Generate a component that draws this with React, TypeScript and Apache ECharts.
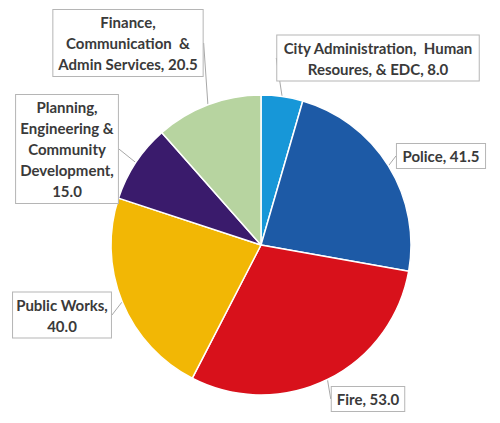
import React, { useEffect, useRef } from "react";
import * as echarts from "echarts";

// Data
const categories = [
  "City Administration,  Human\nResoures, & EDC",
  "Police",
  "Fire",
  "Public Works",
  "Planning,\nEngineering &\nCommunity\nDevelopment",
  "Finance,\nCommunication  &\nAdmin Services",
];
const values = [8.0, 41.5, 53.0, 40.0, 15.0, 20.5];
const valueSeparators = [", ", ", ", ", ", ",\n", ",\n", ", "];

// Layout (label box centres, in px)
const labelCentres: [number, number][] = [
  [378, 58],
  [441, 156],
  [368, 399],
  [62, 315],
  [67, 149],
  [128, 43],
];

const colors = ["#1797d8", "#1d5aa6", "#d8111b", "#f2b705", "#3a1b6c", "#b7d4a0"];

export default function App() {
  const ref = useRef<HTMLDivElement>(null);
  useEffect(() => {
    if (!ref.current) return;
    const chart = echarts.init(ref.current, undefined, { renderer: "svg" });
    chart.setOption({
      animation: false,
      series: [
        {
          type: "pie",
          center: [261, 245],
          radius: [0, 150],
          startAngle: 90,
          clockwise: true,
          data: categories.map((name, i) => ({
            name,
            value: values[i],
            itemStyle: { color: colors[i] },
          })),
          itemStyle: { borderColor: "#ffffff", borderWidth: 1.5 },
          label: {
            show: true,
            position: "outside",
            overflow: "none",
            edgeDistance: 0,
            formatter: (p: any) =>
              p.name + valueSeparators[p.dataIndex] + Number(p.value).toFixed(1),
            fontFamily: "Lato",
            fontWeight: "bold",
            fontSize: 15,
            lineHeight: 21,
            color: "#3a3a3a",
            backgroundColor: "#ffffff",
            borderColor: "#b5b5b5",
            borderWidth: 1,
            padding: [2, 5, 1, 5],
            align: "center",
          },
          labelLine: {
            show: true,
            length: 10,
            length2: 0,
            lineStyle: { color: "#a8a8a8", width: 1 },
          },
          labelLayout: (params: any) => {
            const c = labelCentres[params.dataIndex];
            return { x: c[0], y: c[1], align: "center", verticalAlign: "middle" };
          },
        },
      ],
    });
    return () => chart.dispose();
  }, []);
  return (
    <div
      ref={ref}
      style={{ position: "absolute", left: 0, top: 0, width: 500, height: 423, background: "#fff" }}
    />
  );
}
